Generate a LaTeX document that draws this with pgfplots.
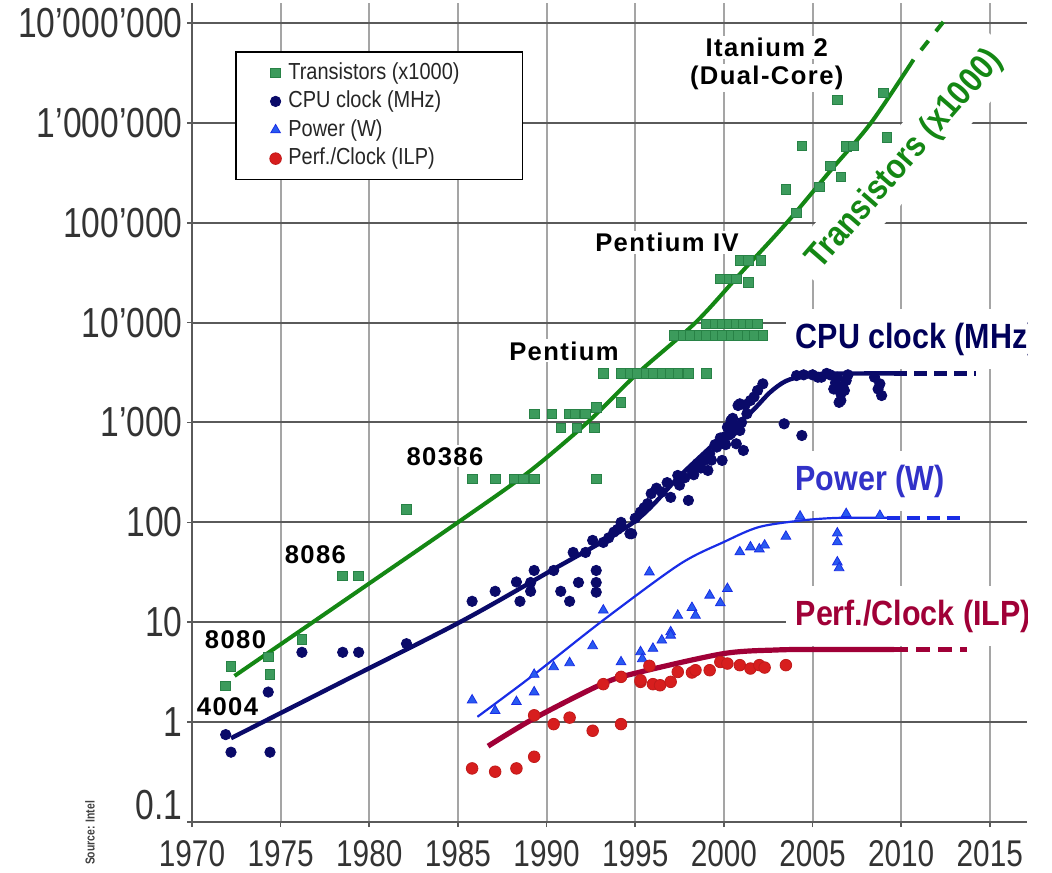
\documentclass[border=0pt]{standalone}
\usepackage{pgfplots}
\usepackage{pgfplotstable}
\pgfplotsset{compat=1.18}
\usepackage{fontspec}
\setmainfont{Liberation Sans}
\newfontfamily\tickfont[FakeStretch=0.8]{Liberation Sans}
\newfontfamily\bigfont[FakeStretch=0.87]{Liberation Sans}
\newfontfamily\annfont[LetterSpace=5.5]{Liberation Sans}
\newfontfamily\legfont[FakeStretch=0.86]{Liberation Sans}

\definecolor{trgreen}{RGB}{20,135,20}
\definecolor{sqfill}{RGB}{60,155,92}
\definecolor{sqdraw}{RGB}{40,130,70}
\definecolor{navy}{RGB}{10,10,105}
\definecolor{navytxt}{RGB}{0,0,90}
\definecolor{pwline}{RGB}{25,45,230}
\definecolor{pwmark}{RGB}{40,90,240}
\definecolor{pwtxt}{RGB}{50,50,200}
\definecolor{ilpline}{RGB}{160,0,55}
\definecolor{ilpdot}{RGB}{215,30,30}
\definecolor{gridh}{RGB}{90,90,90}
\definecolor{gridv}{RGB}{165,165,165}
\definecolor{ticktxt}{RGB}{51,51,51}

% Transistor counts (thousands)
\pgfplotstableread{
x y
1971.9 2.3
1972.2 3.6
1974.3 4.5
1974.4 3.0
1976.2 6.7
1978.5 29
1979.4 29
1982.1 135
1985.8 273
1987.1 273
1988.2 273
1988.7 273
1989.3 273
1992.8 273
1989.3 1220
1990.3 1220
1991.3 1220
1991.6 1220
1992.2 1220
1990.8 880
1991.7 880
1992.7 880
1992.8 1420
1994.2 1590
1993.2 3100
1994.2 3100
1994.7 3100
1995.1 3100
1995.6 3100
1996.0 3100
1996.5 3100
1997.0 3100
1997.4 3100
1998.0 3100
1999.0 3100
1997.2 7400
1997.7 7400
1998.1 7400
1998.6 7400
1999.0 7400
1999.5 7400
1999.9 7400
2000.4 7400
2000.8 7400
2001.3 7400
2001.7 7400
2002.2 7400
1999.0 9700
1999.5 9700
1999.9 9700
2000.3 9700
2000.7 9700
2001.1 9700
2001.5 9700
2001.9 9700
1999.8 27300
2000.3 27300
2000.7 27300
2001.4 25300
2000.9 41700
2001.4 41700
2002.1 41700
2003.5 217000
2004.1 126000
2004.4 589000
2005.4 229000
2006.0 372000
2006.4 1700000
2006.6 288000
2006.9 580000
2007.3 589000
2009.0 2000000
2009.2 720000
}\transistors

% CPU clock (MHz)
\pgfplotstableread{
x y
1971.9 0.75
1972.2 0.5
1974.4 0.5
1974.3 2.0
1976.2 5.0
1978.5 5.0
1979.4 5.0
1982.1 6.1
1985.8 16.2
1987.1 20.4
1988.3 25.3
1988.5 16.2
1989.1 20.4
1989.1 25
1989.3 33
1990.4 33
1990.8 20.4
1991.3 16.2
1991.5 50
1991.8 25
1992.2 50
1992.6 66
1992.8 33
1992.8 25
1992.8 20
1993.2 63
1993.5 70
1993.8 80
1994.0 85
1994.2 93
1994.7 77
1994.2 100
1994.8 77
1995.0 110
1995.3 127
1995.5 140
1995.7 154
1995.9 194
1996.2 220
1996.5 201
1996.8 250
1997.0 178
1997.4 295
1997.5 236
1997.8 280
1998.0 166
1998.2 331
1998.3 300
1998.5 386
1998.7 350
1998.9 417
1999.1 331
1999.2 486
1999.3 420
1999.5 600
1999.6 567
1999.8 700
1999.9 417
2000.0 713
2000.1 600
2000.2 898
2000.3 750
2000.4 1047
2000.5 1100
2000.6 832
2000.7 612
2000.8 1479
2000.9 1538
2000.9 832
2000.4 776
2001.0 1000
2001.1 525
2001.2 1500
2001.3 1222
2001.5 1660
2001.7 1800
2001.9 2090
2002.2 2437
2003.4 970
2004.4 741
2004.1 2950
2004.5 3000
2005.0 3000
2005.3 2840
2005.5 2840
2005.8 3100
2006.0 3000
2006.2 2163
2006.3 2500
2006.4 2840
2006.5 1590
2006.6 1936
2006.6 1660
2006.7 2300
2006.8 2090
2006.9 2630
2007.0 3000
2008.5 2840
2008.7 2163
2008.8 2437
2008.9 1862
}\cpuclock

% Power (W)
\pgfplotstableread{
x y
1985.8 1.66
1987.1 1.30
1988.3 1.6
1989.3 2.0
1989.3 3.0
1990.4 3.57
1991.3 3.92
1992.6 5.8
1993.2 13.2
1994.2 4.0
1995.3 5.05
1995.4 4.3
1995.8 31.8
1996.0 5.46
1996.5 6.6
1997.0 8.0
1997.0 7.4
1997.4 11.7
1998.2 14.0
1998.4 11.7
1999.2 18.6
1999.8 15.6
2000.2 21.7
2000.9 50.5
2001.5 56.6
2002.0 54
2002.3 59
2003.5 72.4
2004.3 115
2006.4 78
2006.4 63.6
2006.4 40
2006.5 35
2006.9 122
2008.8 117
}\power

% Performance per clock (ILP)
\pgfplotstableread{
x y
1985.8 0.344
1987.1 0.319
1988.3 0.344
1989.3 0.45
1989.3 1.17
1990.4 0.955
1991.3 1.11
1992.6 0.82
1993.2 2.4
1994.2 2.84
1994.2 0.955
1995.3 2.53
1995.3 2.63
1995.8 3.66
1996.0 2.4
1996.4 2.34
1997.0 2.53
1997.4 3.18
1998.2 3.14
1998.4 3.31
1999.2 3.31
1999.8 4.0
2000.2 3.86
2000.9 3.72
2001.5 3.44
2002.0 3.72
2002.3 3.52
2003.5 3.72
}\ilp

\begin{document}
\begin{tikzpicture}
\begin{axis}[
  scale only axis,
  width=417.5pt, height=409.5pt,
  xmin=1970, xmax=2017.1,
  ymode=log, ymin=0.1, ymax=1.585e7,
  axis x line*=bottom, axis y line*=left,
  axis line style={draw=gridh, line width=1.1pt},
  xtick={1970,1975,1980,1985,1990,1995,2000,2005,2010,2015},
  xticklabels={1970,1975,1980,1985,1990,1995,2000,2005,2010,2015},
  ytick={1,10,100,1000,10000,100000,1000000,10000000},
  yticklabels={1,10,100,1’000,10’000,100’000,1’000’000,10’000’000},
  extra y ticks={0.1}, extra y tick labels={0.1},
  extra y tick style={yticklabel style={yshift=8.5pt}},
  yminorticks=false,
  xmajorgrids, ymajorgrids,
  x grid style={gridv, line width=1pt},
  y grid style={gridh, line width=1pt},
  tick align=outside, major tick length=2.5pt,
  tick style={gridh, line width=0.8pt},
  xticklabel style={font=\tickfont\fontsize{18.6}{20}\selectfont, text=ticktxt, inner sep=0pt, anchor=north, yshift=-6.5pt},
  yticklabel style={font=\tickfont\fontsize{21}{24}\selectfont, text=ticktxt, inner sep=0pt, anchor=east, xshift=-2pt},
  legend style={at={(0.0515,0.941)}, anchor=north west, draw=black, line width=0.8pt, fill=white,
    font=\legfont\fontsize{11.6}{13}\selectfont, text=black!85,
    inner xsep=17pt, inner ysep=3.2pt,
    nodes={inner xsep=3.5pt, inner ysep=1.5pt, text height=8.8pt, text depth=2.5pt}},
  legend cell align=left,
  legend image code/.code={\draw[#1, line width=0.4pt] plot coordinates {(0pt,0pt)};},
]
\addplot[only marks, mark=square*, mark size=2.4pt, mark options={fill=sqfill, draw=sqdraw, line width=0.4pt}] table {\transistors};
\addlegendentry{Transistors (x1000)\hspace*{11pt}}
\addplot[only marks, mark=*, mark size=2.6pt, mark options={fill=navy, draw=navy}] table {\cpuclock};
\addlegendentry{CPU clock (MHz)}
\addplot[only marks, mark=triangle*, mark size=2.8pt, mark options={fill=pwmark, draw=pwline, line width=0.4pt}] table {\power};
\addlegendentry{Power (W)}
\addplot[only marks, mark=*, mark size=2.9pt, mark options={fill=ilpdot, draw=ilpdot!90!black}] table {\ilp};
\addlegendentry{Perf./Clock (ILP)}

% processor annotations
\begin{scope}[every node/.style={font=\annfont\bfseries\fontsize{12.8}{14}\selectfont, text=black, fill=white, inner sep=1pt, anchor=base}]
\node at (rel axis cs:0.6883,0.9344) {Itanium 2};
\node at (rel axis cs:0.6883,0.8999) {(Dual-Core)};
\node at (rel axis cs:0.5689,0.6963) {Pentium IV};
\node at (rel axis cs:0.4455,0.5641) {Pentium};
\node at (rel axis cs:0.3030,0.4359) {80386};
\node at (rel axis cs:0.1477,0.3159) {8086};
\node at (rel axis cs:0.0521,0.2121) {8080};
\node at (rel axis cs:0.0425,0.1306) {4004};
\end{scope}

% series labels
\begin{scope}[every node/.style={font=\bigfont\bfseries\fontsize{17.5}{20}\selectfont, fill=white, inner xsep=5pt, inner ysep=7pt}]
\node[text=navytxt] at (rel axis cs:0.8679,0.5897) {CPU clock (MHz)};
\node[text=pwtxt] at (rel axis cs:0.8120,0.4164) {Power (W)};
\node[text=ilpline] at (rel axis cs:0.8638,0.2515) {Perf./Clock (ILP)};
\node[text=trgreen, rotate=49, inner xsep=6pt, inner ysep=5pt] at (rel axis cs:0.8539,0.8083) {Transistors (x1000)};
\end{scope}

% trend lines
\addplot[trgreen, line width=2pt, smooth, forget plot] coordinates {
  (1972.4,2.9) (1978.7,17) (1985.0,100) (1988.9,310) (1992.3,1000) (1995.1,3070)
  (1998.4,10000) (2001.0,32000) (2003.55,100000) (2006.0,330000) (2008.3,1000000) (2010.7,4300000)};
\addplot[trgreen, line width=2pt, dash pattern=on 6pt off 6pt, dash phase=6pt, forget plot] coordinates {
  (2010.7,4300000) (2012.6,11500000)};
\addplot[navy, line width=2.2pt, smooth, forget plot] coordinates {
  (1972.2,0.69) (1978.6,2.6) (1985.1,10) (1990.0,31) (1994.9,100) (1997.5,290) (2000.0,750)
  (2001.5,1250) (2002.6,2000) (2003.5,2600) (2004.6,2950) (2006.0,3080) (2009.6,3100)};
\addplot[navy, line width=2.2pt, dash pattern=on 6.5pt off 3.5pt, forget plot] coordinates {
  (2009.6,3100) (2014.2,3100)};
\addplot[pwline, line width=1.1pt, smooth, forget plot] coordinates {
  (1986.1,1.13) (1989.3,3.0) (1993.2,10.5) (1997.5,38) (2000.0,63.6) (2002.0,90)
  (2004.5,105) (2006.5,111) (2009.2,111)};
\addplot[pwline, line width=2.2pt, dash pattern=on 6.5pt off 3.5pt, forget plot] coordinates {
  (2009.2,111) (2013.7,111)};
\addplot[ilpline, line width=2.6pt, smooth, forget plot] coordinates {
  (1986.7,0.575) (1989.3,1.09) (1993.2,2.44) (1995.3,3.18) (2000.0,4.86) (2003.0,5.28)
  (2005.0,5.33) (2009.6,5.33)};
\addplot[ilpline, line width=2.6pt, dash pattern=on 7pt off 4pt, forget plot] coordinates {
  (2009.6,5.33) (2013.7,5.33)};

\coordinate (SW) at (rel axis cs:0,0);
\end{axis}
% source note, below the y labels
\node[rotate=90, font=\tickfont\bfseries\fontsize{6.5}{7}\selectfont, text=black!75] at ([xshift=-51pt,yshift=-5.5pt]SW) {Source: Intel};
\pgfresetboundingbox
\path[use as bounding box] (SW) ++(-96pt,-25pt) rectangle ++(526pt,436pt);
\end{tikzpicture}
\end{document}
